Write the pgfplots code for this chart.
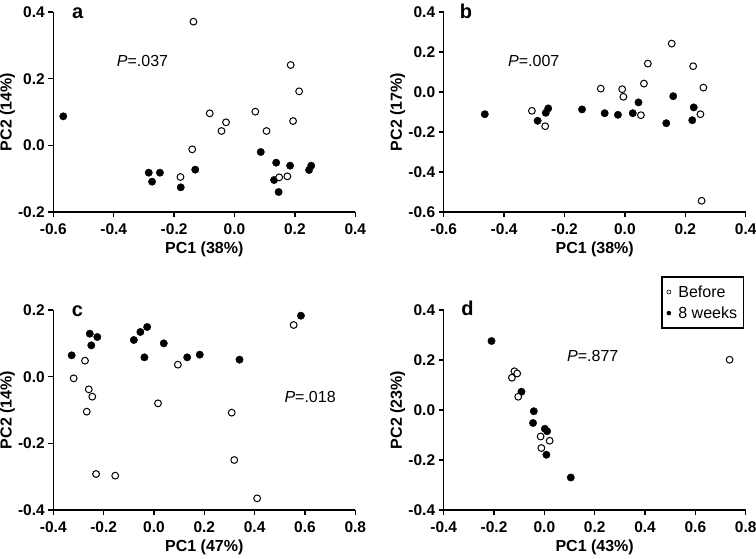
\documentclass[border=0pt]{standalone}
\usepackage{fontspec}
\setmainfont{Liberation Sans}
\usepackage{pgfplots}
\pgfplotsset{compat=1.18}

\pgfplotsset{
  pca/.style={
    scale only axis, width=302pt, height=200pt,
    axis lines=left,
    axis line style={-, line width=1.4pt},
    tick align=outside,
    major tick length=5pt,
    every tick/.style={line width=1.4pt, black},
    tick label style={font=\bfseries\fontsize{15.5}{16}\selectfont},
    xticklabel style={yshift=-3.5pt},
    label style={font=\bfseries\fontsize{16}{17}\selectfont},
    x label style={at={(axis description cs:0.5,-0.185)}, anchor=center},
    y label style={at={(axis description cs:-0.152,0.5)}, anchor=center},
    clip=false,
  },
  fillpt/.style={only marks, mark=*, mark size=3.7pt, mark options={fill=black, draw=black}},
  openpt/.style={only marks, mark=*, mark size=3.4pt, mark options={fill=white, draw=black, line width=1pt}},
}
\newcommand{\panelletter}[2]{\node[font=\bfseries\fontsize{20}{20}\selectfont, anchor=base west, inner sep=0pt] at (rel axis cs:#1,1) [yshift=-6pt] {#2};}
\newcommand{\pval}[3]{\node[font=\fontsize{16}{16}\selectfont, anchor=west, inner sep=0pt] at (axis cs:#1,#2) {\textit{P}=#3};}

\begin{document}
\begin{tikzpicture}
\useasboundingbox (0,0) rectangle (756pt,558pt);

% ---------- a ----------
\begin{axis}[pca, at={(53.3pt,346pt)}, anchor=south west,
  xmin=-0.6, xmax=0.4, ymin=-0.2, ymax=0.4,
  xtick={-0.6,-0.4,-0.2,0,0.2,0.4}, xticklabels={-0.6,-0.4,-0.2,0.0,0.2,0.4},
  ytick={-0.2,0,0.2,0.4}, yticklabels={-0.2,0.0,0.2,0.4},
  xlabel={PC1 (38\%)}, ylabel={PC2 (14\%)}]
\addplot[fillpt] coordinates {(-0.567,0.087) (-0.284,-0.082) (-0.247,-0.082) (-0.273,-0.109) (-0.178,-0.126) (-0.130,-0.073) (0.087,-0.020) (0.138,-0.052) (0.184,-0.061) (0.254,-0.061) (0.247,-0.074) (0.131,-0.104) (0.146,-0.140)};
\addplot[openpt] coordinates {(-0.136,0.371) (-0.140,-0.012) (-0.179,-0.095) (-0.082,0.096) (-0.028,0.069) (-0.043,0.043) (0.069,0.101) (0.106,0.043) (0.194,0.073) (0.186,0.241) (0.214,0.162) (0.148,-0.096) (0.175,-0.093)};
\panelletter{0.062}{a}
\pval{-0.39}{0.254}{.037}
\end{axis}

% ---------- b ----------
\begin{axis}[pca, at={(443.7pt,346pt)}, anchor=south west,
  xmin=-0.6, xmax=0.4, ymin=-0.6, ymax=0.4,
  xtick={-0.6,-0.4,-0.2,0,0.2,0.4}, xticklabels={-0.6,-0.4,-0.2,0.0,0.2,0.4},
  ytick={-0.6,-0.4,-0.2,0,0.2,0.4}, yticklabels={-0.6,-0.4,-0.2,0.0,0.2,0.4},
  xlabel={PC1 (38\%)}, ylabel={PC2 (17\%)}]
\addplot[fillpt] coordinates {(-0.464,-0.111) (-0.289,-0.144) (-0.262,-0.104) (-0.254,-0.082) (-0.142,-0.087) (-0.067,-0.106) (-0.023,-0.114) (0.026,-0.106) (0.045,-0.052) (0.160,-0.021) (0.137,-0.156) (0.228,-0.077) (0.223,-0.141)};
\addplot[openpt] coordinates {(-0.308,-0.094) (-0.264,-0.171) (-0.080,0.017) (-0.009,0.014) (-0.005,-0.024) (0.063,0.042) (0.076,0.142) (0.053,-0.116) (0.155,0.242) (0.226,0.129) (0.260,0.022) (0.250,-0.111) (0.254,-0.544)};
\panelletter{0.053}{b}
\pval{-0.387}{0.155}{.007}
\end{axis}

% ---------- c ----------
\begin{axis}[pca, at={(53.3pt,48pt)}, anchor=south west,
  xmin=-0.4, xmax=0.8, ymin=-0.4, ymax=0.2,
  xtick={-0.4,-0.2,0,0.2,0.4,0.6,0.8}, xticklabels={-0.4,-0.2,0.0,0.2,0.4,0.6,0.8},
  ytick={-0.4,-0.2,0,0.2}, yticklabels={-0.4,-0.2,0.0,0.2},
  xlabel={PC1 (47\%)}, ylabel={PC2 (14\%)}]
\addplot[fillpt] coordinates {(-0.327,0.064) (-0.255,0.129) (-0.225,0.119) (-0.249,0.094) (-0.080,0.110) (-0.054,0.134) (-0.027,0.149) (-0.038,0.058) (0.039,0.100) (0.132,0.058) (0.182,0.066) (0.340,0.051) (0.584,0.183)};
\addplot[openpt] coordinates {(-0.274,0.048) (-0.319,-0.005) (-0.259,-0.038) (-0.245,-0.060) (-0.267,-0.105) (-0.230,-0.292) (-0.154,-0.297) (0.016,-0.080) (0.095,0.036) (0.309,-0.108) (0.319,-0.250) (0.410,-0.365) (0.555,0.155)};
\panelletter{0.061}{c}
\pval{0.518}{-0.062}{.018}
\end{axis}

% ---------- d ----------
\begin{axis}[pca, at={(443.7pt,48pt)}, anchor=south west,
  xmin=-0.4, xmax=0.8, ymin=-0.4, ymax=0.4,
  xtick={-0.4,-0.2,0,0.2,0.4,0.6,0.8}, xticklabels={-0.4,-0.2,0.0,0.2,0.4,0.6,0.8},
  ytick={-0.4,-0.2,0,0.2,0.4}, yticklabels={-0.4,-0.2,0.0,0.2,0.4},
  xlabel={PC1 (43\%)}, ylabel={PC2 (23\%)},
  reverse legend,
  legend cell align=left,
  legend style={at={(0.72,1.169)}, anchor=north west, draw=black, line width=1.5pt,
    font=\fontsize{16}{17}\selectfont, inner xsep=5pt, inner ysep=7pt, row sep=5pt,
    nodes={inner sep=1.5pt}}]
\addplot[fillpt, legend image post style={mark size=2pt, mark options={line width=0.5pt, fill=black, draw=black}}] coordinates {(-0.210,0.276) (-0.091,0.073) (-0.042,-0.005) (-0.045,-0.052) (0.002,-0.075) (0.011,-0.085) (0.008,-0.179) (0.105,-0.270)};
\addlegendentry{\hspace{6pt}8 weeks\hspace{6pt}}
\addplot[openpt, legend image post style={mark size=2pt, mark options={line width=0.6pt, fill=white, draw=black}}] coordinates {(-0.119,0.155) (-0.108,0.146) (-0.129,0.129) (-0.104,0.053) (-0.015,-0.106) (0.021,-0.123) (-0.012,-0.152) (0.736,0.201)};
\addlegendentry{\hspace{6pt}Before}
\panelletter{0.058}{d}
\pval{0.090}{0.217}{.877}
\end{axis}
\end{tikzpicture}
\end{document}
